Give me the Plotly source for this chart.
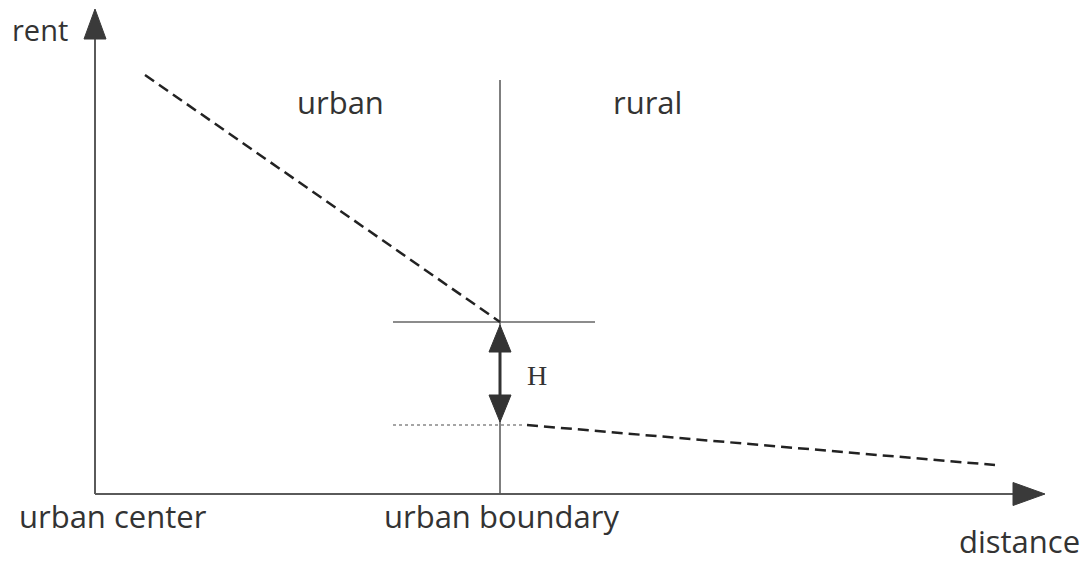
import plotly.graph_objects as go

# ---- data (distance units / rent units) ----
distance_urban = [0.50, 4.05]
rent_urban = [4.19, 1.72]
distance_rural = [4.32, 9.00]
rent_rural = [0.69, 0.29]
boundary_distance = 4.05
boundary_top_rent = 4.14
guide_upper_x = [2.98, 5.00]
guide_lower_x = [2.98, 4.28]
axis_x_end = 9.50
axis_y_end = 4.85
gap_H = [1.69, 0.72]  # rent at tips of the H double arrow

labels = {
    "rent": "rent",
    "distance": "distance",
    "center": "urban center",
    "boundary": "urban boundary",
    "urban": "urban",
    "rural": "rural",
    "H": "H",
}

PX = 100.0  # pixels per data unit (both axes)
X_RANGE = [-0.87, 10.01]
Y_RANGE = [-0.75, 4.86]

AXIS_COL = "#5a5a5a"
INK = "#222222"
TEXT_COL = "#333333"
FONT = "Open Sans"


def head(tip_x, tip_y, dx, dy, length_px, width_px):
    L = length_px / PX
    W = width_px / PX / 2
    bx, by = tip_x - dx * L, tip_y - dy * L
    px, py = -dy, dx
    return ([tip_x, bx + px * W, bx - px * W, tip_x],
            [tip_y, by + py * W, by - py * W, tip_y])


fig = go.Figure()


def line(xs, ys, color, width, dash="solid"):
    fig.add_trace(go.Scatter(x=xs, y=ys, mode="lines", hoverinfo="skip",
                             line=dict(color=color, width=width, dash=dash),
                             showlegend=False))


def poly(xy, color):
    xs, ys = xy
    fig.add_trace(go.Scatter(x=xs, y=ys, mode="lines", fill="toself",
                             fillcolor=color, line=dict(color=color, width=1),
                             hoverinfo="skip", showlegend=False))


# axes
y_head_len, x_head_len = 30, 32
line([0, 0], [0, axis_y_end - y_head_len / PX], AXIS_COL, 2)
poly(head(0, axis_y_end, 0, 1, y_head_len, 22), "#3a3a3a")
line([0, axis_x_end - x_head_len / PX], [0, 0], AXIS_COL, 2)
poly(head(axis_x_end, 0, 1, 0, x_head_len, 23), "#3a3a3a")

# boundary and guides
line([boundary_distance, boundary_distance], [0, boundary_top_rent], "#555555", 1.5)
line(guide_upper_x, [rent_urban[-1], rent_urban[-1]], "#666666", 1.5)
line(guide_lower_x, [rent_rural[0], rent_rural[0]], "#888888", 1.5, "dot")

# rent curves
line(distance_urban, rent_urban, INK, 2.5, "11px,6px")
line(distance_rural, rent_rural, INK, 2.5, "11px,6px")

# H double arrow
h_len, h_w = 27, 22
line([boundary_distance, boundary_distance],
     [gap_H[1] + h_len / PX, gap_H[0] - h_len / PX], "#333333", 3)
poly(head(boundary_distance, gap_H[0], 0, 1, h_len, h_w), "#333333")
poly(head(boundary_distance, gap_H[1], 0, -1, h_len, h_w), "#333333")

# texts
ann = []


def text(t, x, y, xanchor="center", size=31, family=FONT):
    ann.append(dict(text=t, x=x, y=y, xref="x", yref="y", showarrow=False,
                    xanchor=xanchor, yanchor="middle",
                    font=dict(family=family, size=size, color=TEXT_COL)))


text(labels["rent"], -0.85, 4.65, "left", 29)
text(labels["urban"], 2.00, 3.92, "left")
text(labels["rural"], 5.16, 3.92, "left")
text(labels["center"], -0.78, -0.22, "left")
text(labels["boundary"], 4.06, -0.22)
text(labels["distance"], 9.24, -0.47)
text(labels["H"], 4.42, 1.19, "center", 28, "Liberation Serif")

fig.update_layout(
    width=1088, height=561,
    margin=dict(l=0, r=0, t=0, b=0),
    paper_bgcolor="white", plot_bgcolor="white",
    xaxis=dict(range=X_RANGE, visible=False, fixedrange=True),
    yaxis=dict(range=Y_RANGE, visible=False, fixedrange=True),
    annotations=ann,
    showlegend=False,
)

fig.write_html("out.html")
